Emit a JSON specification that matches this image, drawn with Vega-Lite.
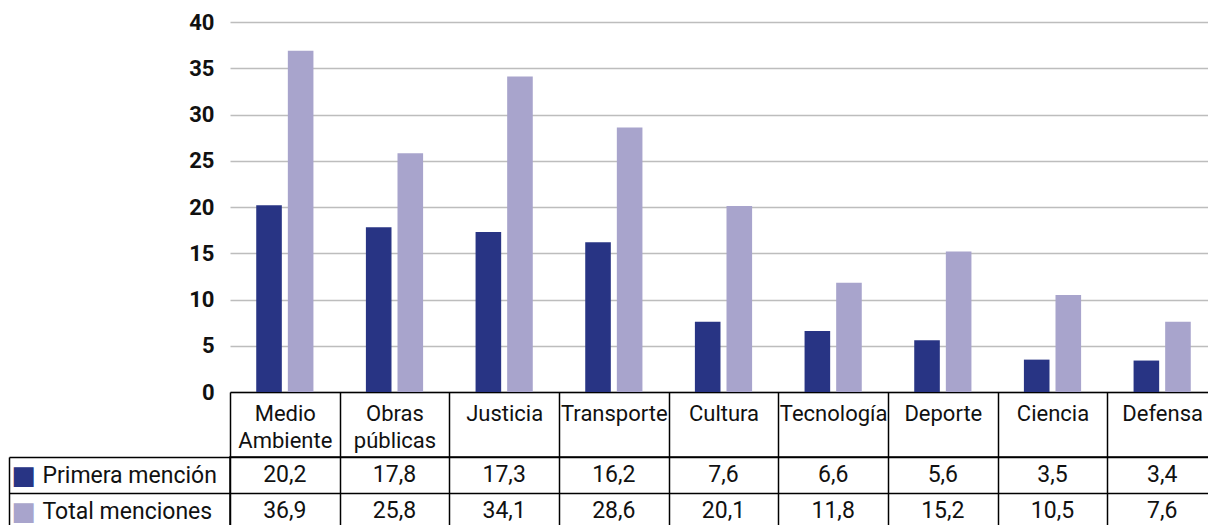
{
  "$schema": "https://vega.github.io/schema/vega-lite/v6.json",
  "padding": {"left": 7, "top": 11, "right": 0, "bottom": 0},
  "config": {
    "locale": {"number": {"decimal": ",", "thousands": ".", "grouping": [3], "currency": ["", " €"]}},
    "font": "Roboto"
  },
  "datasets": {
    "d": [
      {"area": "Medio Ambiente", "serie": "Primera mención", "valor": 20.2},
      {"area": "Medio Ambiente", "serie": "Total menciones", "valor": 36.9},
      {"area": "Obras públicas", "serie": "Primera mención", "valor": 17.8},
      {"area": "Obras públicas", "serie": "Total menciones", "valor": 25.8},
      {"area": "Justicia", "serie": "Primera mención", "valor": 17.3},
      {"area": "Justicia", "serie": "Total menciones", "valor": 34.1},
      {"area": "Transporte", "serie": "Primera mención", "valor": 16.2},
      {"area": "Transporte", "serie": "Total menciones", "valor": 28.6},
      {"area": "Cultura", "serie": "Primera mención", "valor": 7.6},
      {"area": "Cultura", "serie": "Total menciones", "valor": 20.1},
      {"area": "Tecnología", "serie": "Primera mención", "valor": 6.6},
      {"area": "Tecnología", "serie": "Total menciones", "valor": 11.8},
      {"area": "Deporte", "serie": "Primera mención", "valor": 5.6},
      {"area": "Deporte", "serie": "Total menciones", "valor": 15.2},
      {"area": "Ciencia", "serie": "Primera mención", "valor": 3.5},
      {"area": "Ciencia", "serie": "Total menciones", "valor": 10.5},
      {"area": "Defensa", "serie": "Primera mención", "valor": 3.4},
      {"area": "Defensa", "serie": "Total menciones", "valor": 7.6}
    ]
  },
  "bounds": "flush",
  "spacing": 65,
  "resolve": {"scale": {"x": "shared"}},
  "vconcat": [
    {
      "width": 987,
      "height": 370,
      "view": {"stroke": null},
      "data": {"name": "d"},
      "mark": {"type": "bar"},
      "encoding": {
        "x": {
          "field": "area", "type": "nominal",
          "sort": ["Medio Ambiente", "Obras públicas", "Justicia", "Transporte", "Cultura", "Tecnología", "Deporte", "Ciencia", "Defensa"],
          "scale": {"domain": ["Medio Ambiente", "Obras públicas", "Justicia", "Transporte", "Cultura", "Tecnología", "Deporte", "Ciencia", "Defensa"], "paddingInner": 0, "paddingOuter": 0},
          "axis": {
            "title": null, "orient": "bottom", "grid": false,
            "domainColor": "#000000", "domainWidth": 1.5,
            "tickBand": "extent", "tickColor": "#000000", "tickWidth": 1.5, "tickSize": 65,
            "labelAngle": 0, "labelFontSize": 22, "labelColor": "#111111", "labelLineHeight": 27,
            "labelBaseline": "top", "labelPadding": -54,
            "labelExpr": "datum.value == 'Medio Ambiente' ? ['Medio', 'Ambiente'] : datum.value == 'Obras públicas' ? ['Obras', 'públicas'] : datum.value"
          }
        },
        "xOffset": {
          "field": "serie", "type": "nominal",
          "sort": ["Primera mención", "Total menciones"],
          "scale": {"paddingInner": 0.19, "paddingOuter": 0.83}
        },
        "y": {
          "field": "valor", "type": "quantitative",
          "scale": {"domain": [0, 40], "nice": false},
          "axis": {
            "title": null, "values": [0, 5, 10, 15, 20, 25, 30, 35, 40],
            "labelFontSize": 22, "labelFontWeight": "bold", "labelColor": "#111111", "labelPadding": 16,
            "ticks": false, "domain": false, "grid": true, "gridColor": "#bdbdbd", "gridWidth": 1.5
          }
        },
        "color": {
          "field": "serie", "type": "nominal",
          "scale": {"domain": ["Primera mención", "Total menciones"], "range": ["#283484", "#a8a4cc"]},
          "legend": null
        }
      }
    },
    {
      "width": 987,
      "height": 72,
      "view": {"stroke": "#000000", "strokeWidth": 1.5},
      "data": {"name": "d"},
      "layer": [
        {
          "mark": {"type": "text", "fontSize": 23, "color": "#111111"},
          "encoding": {
            "x": {
              "field": "area", "type": "nominal",
              "sort": ["Medio Ambiente", "Obras públicas", "Justicia", "Transporte", "Cultura", "Tecnología", "Deporte", "Ciencia", "Defensa"],
              "scale": {"domain": ["Medio Ambiente", "Obras públicas", "Justicia", "Transporte", "Cultura", "Tecnología", "Deporte", "Ciencia", "Defensa"], "paddingInner": 0, "paddingOuter": 0},
              "axis": {"title": null, "labels": false, "ticks": false, "domain": false, "grid": true, "tickBand": "extent", "gridColor": "#000000", "gridWidth": 1.5}
            },
            "y": {
              "field": "serie", "type": "nominal",
              "scale": {"domain": ["Primera mención", "Total menciones"], "paddingInner": 0, "paddingOuter": 0},
              "axis": {
                "title": null, "orient": "left", "labelAlign": "left", "labelFontSize": 23, "labelColor": "#111111",
                "labelPadding": -33, "tickBand": "extent", "tickSize": 221, "tickColor": "#000000", "tickWidth": 1.5,
                "grid": true, "gridColor": "#000000", "gridWidth": 1.5, "domain": false
              }
            },
            "text": {"field": "valor", "type": "quantitative", "format": ".1f"}
          }
        },
        {
          "mark": {"type": "text", "opacity": 0},
          "encoding": {
            "y": {
              "field": "serie", "type": "nominal",
              "scale": {"domain": ["Primera mención", "Total menciones"], "paddingInner": 0, "paddingOuter": 0},
              "axis": {
                "title": null, "orient": "left", "offset": 221, "ticks": false, "grid": false,
                "domain": true, "domainColor": "#000000", "domainWidth": 1.5,
                "labelExpr": "'■'", "labelFont": "DejaVu Sans", "labelFontSize": 26, "labelAlign": "left", "labelPadding": -2,
                "labelColor": {"condition": {"test": "datum.value === 'Primera mención'", "value": "#283484"}, "value": "#a8a4cc"}
              }
            },
            "text": {"value": ""}
          }
        }
      ],
      "resolve": {"scale": {"y": "independent"}, "axis": {"y": "independent"}}
    }
  ]
}
